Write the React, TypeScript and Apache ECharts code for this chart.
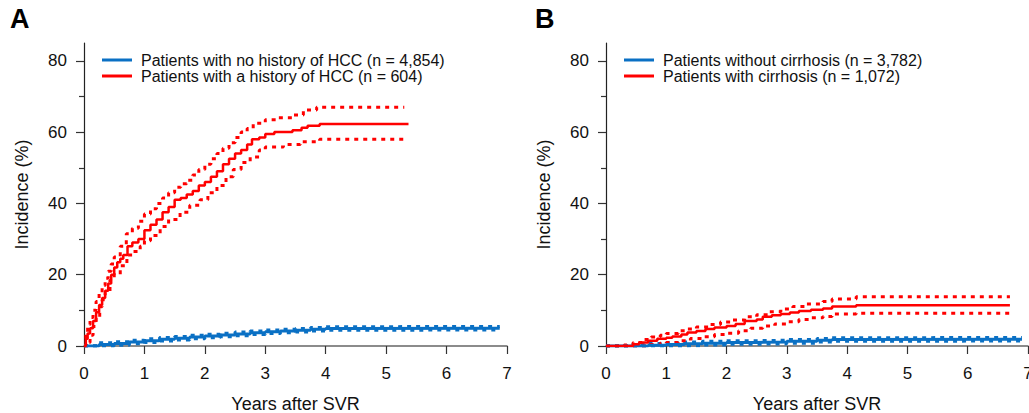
import React, { useEffect, useRef } from "react";
import * as echarts from "echarts";

// ---------- Data (years after SVR, cumulative incidence %) ----------
const nameA1 = "Patients with no history of HCC (n = 4,854)";
const nameA2 = "Patients with a history of HCC (n = 604)";
const nameB1 = "Patients without cirrhosis (n = 3,782)";
const nameB2 = "Patients with cirrhosis (n = 1,072)";

const xTicks = [0, 1, 2, 3, 4, 5, 6, 7];
const yMajorTicks = [0, 20, 40, 60, 80];
const yMinorTicks = [10, 30, 50, 70];

// Panel A – history of HCC
const aHccEst = [[0,0],[0.03,2],[0.06,3.5],[0.1,5],[0.15,7],[0.2,9.5],[0.25,11.5],[0.3,13.5],[0.35,15.5],[0.4,17.5],[0.45,20],[0.5,22],[0.55,23.5],[0.6,24.5],[0.65,25.5],[0.72,28],[0.8,29],[0.9,30],[1.0,32.5],[1.1,34],[1.2,35.5],[1.3,37.5],[1.4,39],[1.5,41],[1.6,41.5],[1.7,42.5],[1.8,43.5],[1.9,45],[2.0,46],[2.1,47.5],[2.2,49],[2.3,51],[2.4,52.5],[2.5,54],[2.6,55],[2.7,56.5],[2.78,58],[2.9,58.5],[3.0,59.5],[3.15,60],[3.45,60.5],[3.6,61.2],[3.7,61.8],[3.9,62.3],[5.37,62.3]];
const aHccUpper = [[0,0],[0.03,4],[0.06,6],[0.1,8],[0.15,10],[0.2,12.5],[0.25,15],[0.3,17],[0.35,19],[0.4,21],[0.45,23],[0.5,25],[0.6,28],[0.7,31.5],[0.8,33],[0.9,35],[1.0,37],[1.1,38.5],[1.2,40],[1.3,41.5],[1.4,43],[1.5,44.5],[1.6,45.5],[1.7,46.5],[1.8,48],[1.9,49.5],[2.0,51],[2.1,52.5],[2.2,54],[2.3,55.5],[2.4,57],[2.5,58.5],[2.6,60],[2.7,61],[2.8,62.5],[3.0,63.5],[3.2,64],[3.45,64.8],[3.63,66.2],[3.85,67],[5.3,67]];
const aHccLower = [[0,0],[0.06,1],[0.1,3],[0.15,5.5],[0.2,8],[0.26,11],[0.3,13],[0.35,15],[0.43,18.5],[0.5,20],[0.6,22.5],[0.71,25.5],[0.8,26.5],[0.93,28],[1.0,29.5],[1.1,31],[1.26,33.5],[1.4,35.5],[1.59,37.5],[1.75,39.5],[1.92,41],[2.05,43],[2.2,45],[2.35,47.5],[2.47,49.5],[2.6,51.5],[2.75,53],[2.9,55],[3.0,55.8],[3.3,56.5],[3.58,57.3],[3.9,58],[5.3,58]];

// Panel A – no history of HCC
const aNoEst = [[0,0],[0.25,0.4],[0.5,0.7],[0.75,1.1],[1.0,1.5],[1.25,1.9],[1.5,2.2],[1.75,2.5],[2.0,2.8],[2.25,3.1],[2.5,3.4],[2.75,3.7],[3.0,4.0],[3.25,4.2],[3.5,4.4],[3.75,4.7],[4.0,4.9],[4.3,5.0],[6.88,5.0]];
const aNoUpper = [[0,0.1],[0.25,0.9],[0.5,1.2],[0.75,1.6],[1.0,2.0],[1.25,2.4],[1.5,2.7],[1.75,3.0],[2.0,3.3],[2.25,3.6],[2.5,3.9],[2.75,4.2],[3.0,4.5],[3.25,4.7],[3.5,4.9],[3.75,5.2],[4.0,5.4],[4.3,5.5],[6.88,5.5]];
const aNoLower = [[0,0],[0.25,0],[0.5,0.2],[0.75,0.6],[1.0,1.0],[1.25,1.4],[1.5,1.7],[1.75,2.0],[2.0,2.3],[2.25,2.6],[2.5,2.9],[2.75,3.2],[3.0,3.5],[3.25,3.7],[3.5,3.9],[3.75,4.2],[4.0,4.4],[4.3,4.5],[6.88,4.5]];

// Panel B – cirrhosis
const bCirEst = [[0,0],[0.3,0],[0.45,0.5],[0.55,1],[0.7,1.5],[0.85,2],[1.0,2.3],[1.1,2.7],[1.25,3.2],[1.35,3.8],[1.5,4.2],[1.65,4.8],[1.8,5.2],[2.0,5.6],[2.15,6.2],[2.3,7],[2.5,7.4],[2.6,8.2],[2.75,8.6],[2.9,9],[3.05,9.4],[3.2,9.8],[3.4,10.2],[3.6,10.5],[3.75,11.1],[4.15,11.4],[6.7,11.4]];
const bCirUpper = [[0,0],[0.3,0.3],[0.45,1],[0.6,1.8],[0.75,2.5],[0.9,3],[1.0,3.5],[1.2,4.3],[1.35,4.8],[1.5,5.3],[1.7,6],[1.9,6.7],[2.1,7.3],[2.3,8.2],[2.5,8.8],[2.7,9.6],[2.9,10.4],[3.1,11.1],[3.3,11.8],[3.6,12.5],[3.75,13.2],[4.15,13.8],[6.7,13.8]];
const bCirLower = [[0,0],[0.5,0],[0.7,0.4],[0.9,0.8],[1.0,1],[1.2,1.5],[1.4,2.1],[1.6,2.6],[1.8,3.2],[2.0,3.6],[2.2,4.3],[2.4,5],[2.6,5.6],[2.8,6.2],[3.0,6.8],[3.2,7.4],[3.4,7.9],[3.6,8.3],[3.75,9],[4.15,9.2],[6.7,9.2]];

// Panel B – no cirrhosis
const bNoEst = [[0,0],[0.4,0],[0.7,0.2],[1.0,0.4],[1.3,0.6],[1.6,0.8],[2.0,1.0],[2.5,1.1],[3.0,1.3],[3.5,1.6],[3.75,1.8],[4.0,1.9],[6.9,1.9]];
const bNoUpper = [[0,0],[0.4,0.4],[0.7,0.7],[1.0,0.9],[1.3,1.1],[1.6,1.3],[2.0,1.5],[2.5,1.6],[3.0,1.8],[3.5,2.1],[3.75,2.3],[4.0,2.4],[6.9,2.4]];
const bNoLower = [[0,0],[0.5,0],[0.7,0],[1.0,0],[1.3,0.1],[1.6,0.3],[2.0,0.5],[2.5,0.6],[3.0,0.8],[3.5,1.1],[3.75,1.3],[4.0,1.4],[6.9,1.4]];

const BLUE = "#0a70c4";
const RED = "#ff0000";
const FONT = "'Liberation Sans', Arial, sans-serif";

export default function App() {
  const ref = useRef<HTMLDivElement>(null);
  useEffect(() => {
    if (!ref.current) return;
    const chart = echarts.init(ref.current, null, { renderer: "svg" });

    const grids = [
      { left: 84, top: 43, width: 423, height: 303, outerBoundsMode: "none", containLabel: false },
      { left: 606, top: 43, width: 422, height: 303, outerBoundsMode: "none", containLabel: false },
    ];

    const xAxes = [0, 1].map((g) => ({
      type: "value",
      gridIndex: g,
      min: 0,
      max: 7,
      interval: 1,
      name: "Years after SVR",
      nameLocation: "middle",
      nameGap: 49,
      nameTextStyle: { fontSize: 18, color: "#111", fontFamily: FONT },
      axisLine: { show: true, lineStyle: { color: "#666", width: 1.5 } },
      axisTick: { show: true, length: 8, lineStyle: { color: "#333", width: 1.2 }, customValues: xTicks },
      axisLabel: { fontSize: 17, color: "#111", margin: 19, fontFamily: FONT, customValues: xTicks, hideOverlap: false },
      splitLine: { show: false },
    }));

    const yAxes: any[] = [];
    [0, 1].forEach((g) => {
      yAxes.push({
        type: "value",
        gridIndex: g,
        position: "left",
        min: 0,
        max: 85,
        name: "Incidence (%)",
        nameLocation: "middle",
        nameGap: 53,
        nameTextStyle: { fontSize: 18, color: "#111", fontFamily: FONT },
        axisLine: { show: true, lineStyle: { color: "#222", width: 1.2 } },
        axisTick: { show: true, length: 8, lineStyle: { color: "#333", width: 1.2 }, customValues: yMajorTicks },
        axisLabel: { fontSize: 17, color: "#111", margin: 17, fontFamily: FONT, customValues: yMajorTicks },
        splitLine: { show: false },
      });
    });
    [0, 1].forEach((g) => {
      yAxes.push({
        type: "value",
        gridIndex: g,
        position: "left",
        offset: 0,
        min: 0,
        max: 85,
        axisLine: { show: false },
        axisTick: { show: true, length: 5, lineStyle: { color: "#333", width: 1.2 }, customValues: yMinorTicks },
        axisLabel: { show: false },
        splitLine: { show: false },
      });
    });

    const dotted = (color: string, width: number, dash: number[]) => ({
      color,
      width,
      type: dash,
      cap: "butt",
    });

    const mk = (name: string, data: number[][], g: number, lineStyle: any, z = 2) => ({
      name,
      type: "line",
      xAxisIndex: g,
      yAxisIndex: g,
      data,
      step: "end",
      symbol: "none",
      showSymbol: false,
      lineStyle,
      itemStyle: { color: lineStyle.color },
      z,
      silent: true,
    });

    const series = [
      // Panel A
      mk("A no HCC upper", aNoUpper, 0, dotted(BLUE, 3, [4, 5]), 2),
      mk("A no HCC lower", aNoLower, 0, dotted(BLUE, 3, [4, 5]), 2),
      mk(nameA1, aNoEst, 0, { color: BLUE, width: 3 }, 3),
      mk("A HCC upper", aHccUpper, 0, dotted(RED, 3, [4, 5]), 2),
      mk("A HCC lower", aHccLower, 0, dotted(RED, 3, [4, 5]), 2),
      mk(nameA2, aHccEst, 0, { color: RED, width: 2.5 }, 3),
      // Panel B
      mk("B no cir upper", bNoUpper, 1, dotted(BLUE, 3, [4, 5]), 2),
      mk("B no cir lower", bNoLower, 1, dotted(BLUE, 3, [4, 5]), 2),
      mk(nameB1, bNoEst, 1, { color: BLUE, width: 3 }, 3),
      mk("B cir upper", bCirUpper, 1, dotted(RED, 3, [4, 5]), 2),
      mk("B cir lower", bCirLower, 1, dotted(RED, 3, [4, 5]), 2),
      mk(nameB2, bCirEst, 1, { color: RED, width: 2.5 }, 3),
    ];

    const legendBase = {
      orient: "vertical",
      top: 52,
      padding: 0,
      itemWidth: 30,
      itemHeight: 3,
      itemGap: 0,
      icon: "rect",
      selectedMode: false,
      textStyle: { fontSize: 16, color: "#111", fontFamily: FONT, padding: [0, 0, 0, 4] },
    };

    chart.setOption({
      animation: false,
      backgroundColor: "#fff",
      title: [
        { text: "A", left: 10, top: 5, padding: 0, textStyle: { fontSize: 27, fontWeight: "bold", color: "#000", fontFamily: FONT } },
        { text: "B", left: 535, top: 5, padding: 0, textStyle: { fontSize: 27, fontWeight: "bold", color: "#000", fontFamily: FONT } },
      ],
      legend: [
        { ...legendBase, left: 102, data: [nameA1, nameA2] },
        { ...legendBase, left: 624, data: [nameB1, nameB2] },
      ],
      grid: grids,
      xAxis: xAxes,
      yAxis: yAxes,
      series,
    });

    return () => chart.dispose();
  }, []);

  return (
    <div
      ref={ref}
      style={{ position: "fixed", left: 0, top: 0, width: 1029, height: 413, background: "#fff" }}
    />
  );
}
